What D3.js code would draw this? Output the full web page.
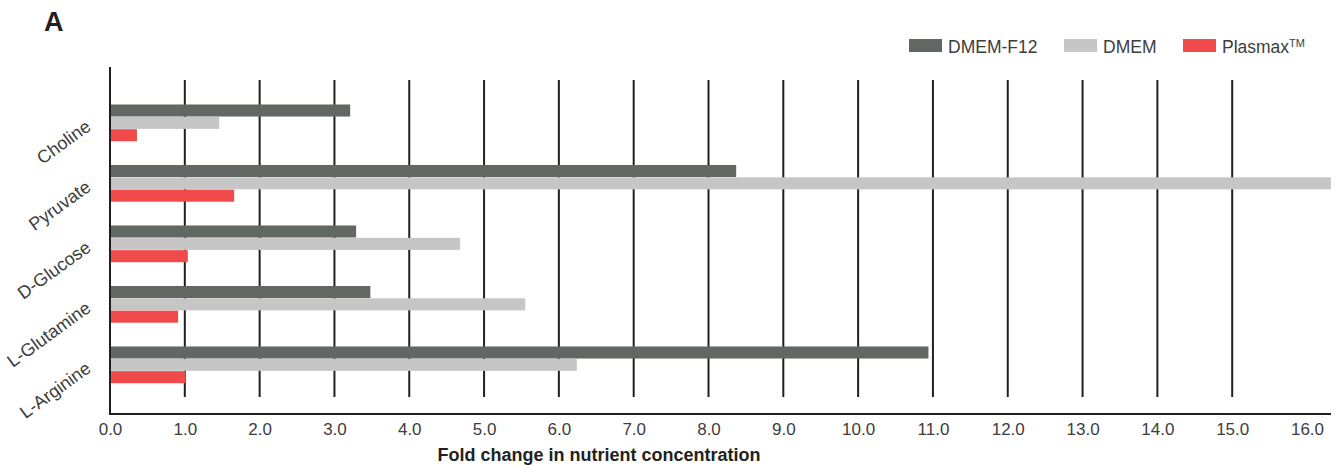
<!DOCTYPE html>
<html><head><meta charset="utf-8">
<script src="https://cdn.jsdelivr.net/npm/d3@7"></script>
<style>body{margin:0;background:#fff}svg{display:block}text{font-family:"Liberation Sans",Arial,sans-serif}</style>
</head><body>
<script>
const categories = ["Choline","Pyruvate","D-Glucose","L-Glutamine","L-Arginine"];
const seriesNames = ["DMEM-F12","DMEM","Plasmax"];
const dmemF12 = [3.21, 8.37, 3.29, 3.48, 10.94];
const dmem = [1.46, 16.32, 4.68, 5.55, 6.24];
const plasmax = [0.36, 1.66, 1.04, 0.91, 1.01];
const tickValues = [0,1,2,3,4,5,6,7,8,9,10,11,12,13,14,15,16];
const colors = ["#636763","#c6c6c6","#f04a4a"];

const W = 1338, H = 468;
const svg = d3.select("body").append("svg").attr("width", W).attr("height", H);

const x = d3.scaleLinear().domain([0,16]).range([110, 1307]);
const y = d3.scaleBand().domain(categories).range([104.5, 383.5]).paddingInner(0.388).paddingOuter(0);
const ys = d3.scaleBand().domain(seriesNames).range([0, y.bandwidth()]);

// gridlines
svg.append("g").selectAll("line").data(tickValues.filter(v => v > 0 && v < 16)).join("line")
  .attr("x1", d => x(d)).attr("x2", d => x(d)).attr("y1", 80).attr("y2", 397)
  .attr("stroke", "#231f20").attr("stroke-width", 2);

// bars
const data = categories.map((c,i) => ({cat:c, vals:[dmemF12[i], dmem[i], plasmax[i]]}));
const g = svg.append("g");
data.forEach(d => {
  d.vals.forEach((v, j) => {
    g.append("rect")
      .attr("x", x(0)).attr("y", y(d.cat) + ys(seriesNames[j]))
      .attr("width", x(v) - x(0)).attr("height", ys.bandwidth() - 0.3)
      .attr("fill", colors[j]);
  });
});

// axes lines
svg.append("line").attr("x1", 110).attr("x2", 110).attr("y1", 67).attr("y2", 415)
  .attr("stroke", "#231f20").attr("stroke-width", 2);
const xAxis = d3.axisBottom(x).tickValues(tickValues).tickFormat(d3.format(".1f")).tickSize(0).tickPadding(9);
const ax = svg.append("g").attr("transform", "translate(0,414)").call(xAxis);
ax.select(".domain").remove();
ax.selectAll("text").attr("font-size", 17).attr("fill", "#3d3d3d").attr("dy", "0.72em");
svg.append("line").attr("x1", 109).attr("x2", 1331).attr("y1", 414).attr("y2", 414)
  .attr("stroke", "#231f20").attr("stroke-width", 2);

// y labels
svg.append("g").selectAll("text").data(categories).join("text")
  .attr("transform", d => `translate(92,${y(d) + y.bandwidth()/2 + 6}) rotate(-36)`)
  .attr("text-anchor", "end").attr("font-size", 18).attr("fill", "#3d3d3d").text(d => d);

// axis title
svg.append("text").attr("x", 599).attr("y", 461).attr("text-anchor", "middle")
  .attr("font-size", 18).attr("font-weight", "bold").attr("fill", "#231f20")
  .text("Fold change in nutrient concentration");

// panel label
svg.append("text").attr("x", 44).attr("y", 31).attr("font-size", 27).attr("font-weight", "bold")
  .attr("fill", "#231f20").text("A");

// legend
const legendX = [909, 1064, 1183];
const lg = svg.append("g");
seriesNames.forEach((s, j) => {
  lg.append("rect").attr("x", legendX[j]).attr("y", 39).attr("width", 33).attr("height", 13).attr("fill", colors[j]);
  const t = lg.append("text").attr("x", legendX[j] + 39).attr("y", 53).attr("font-size", 17.5).attr("fill", "#3d3d3d").text(s);
  if (s === "Plasmax") t.append("tspan").attr("font-size", 11).attr("dy", -6).text("TM");
});
</script>
</body></html>
